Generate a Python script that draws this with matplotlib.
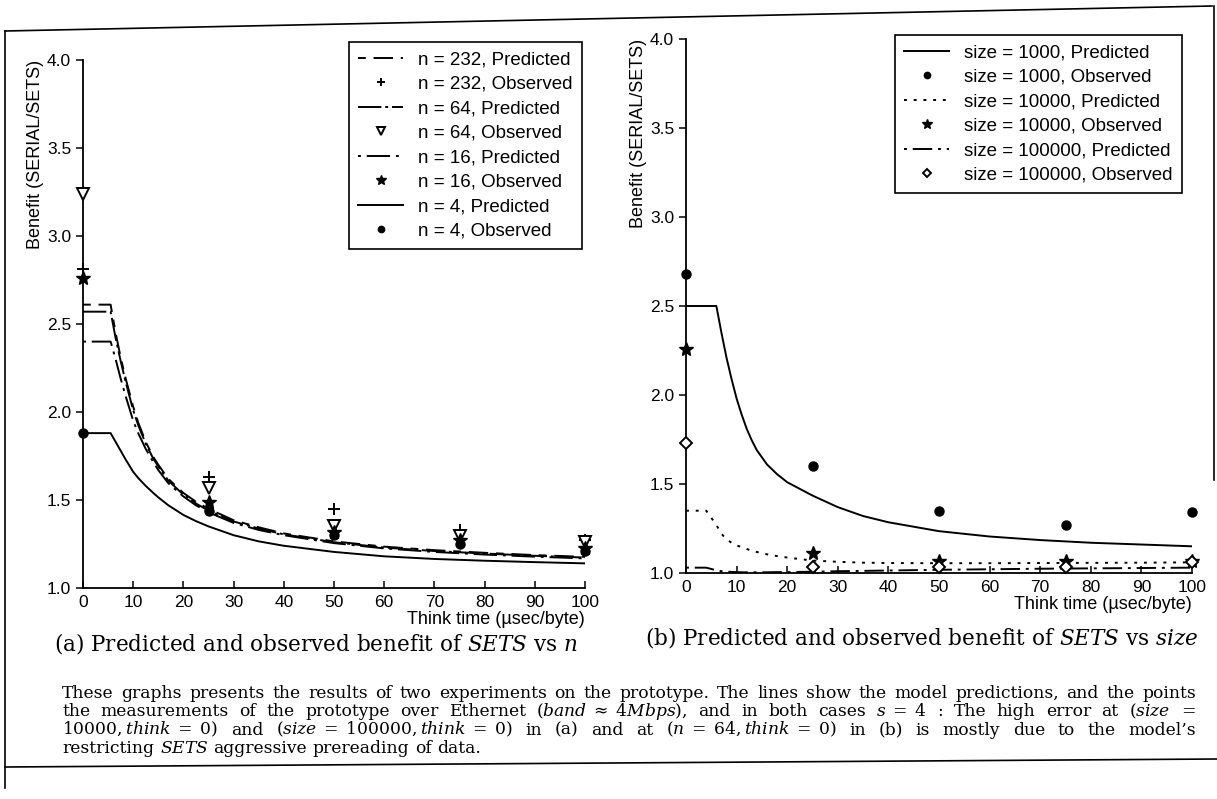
import numpy as np
import matplotlib.pyplot as plt
from matplotlib.lines import Line2D

W, H = 1217, 799

# think time (usec/byte)
think_obs = [0, 25, 50, 75, 100]
think_pred = [0, 5.5, 6.5, 7.5, 8.5, 10, 11, 12.5, 14, 15, 17, 20, 22.5, 25, 30, 35, 40, 50, 60, 70, 80, 90, 100]

# (a) benefit vs n
pred_n232 = [2.61, 2.61, 2.45, 2.31, 2.19, 2.03, 1.94, 1.83, 1.745, 1.70, 1.62, 1.54, 1.49, 1.45, 1.385, 1.345,
             1.31, 1.265, 1.235, 1.215, 1.20, 1.187, 1.177]
pred_n64 = [2.57, 2.57, 2.42, 2.29, 2.17, 2.01, 1.925, 1.82, 1.735, 1.69, 1.61, 1.53, 1.48, 1.44, 1.378, 1.338,
            1.305, 1.26, 1.23, 1.21, 1.196, 1.183, 1.173]
pred_n16 = [2.40, 2.40, 2.30, 2.19, 2.09, 1.95, 1.88, 1.79, 1.715, 1.67, 1.595, 1.52, 1.47, 1.43, 1.37, 1.33,
            1.30, 1.255, 1.225, 1.205, 1.19, 1.178, 1.168]
pred_n4 = [1.88, 1.88, 1.83, 1.78, 1.73, 1.66, 1.625, 1.58, 1.54, 1.515, 1.47, 1.415, 1.38, 1.35, 1.30, 1.265,
           1.24, 1.205, 1.18, 1.165, 1.155, 1.147, 1.14]
obs_n232 = [2.81, 1.63, 1.45, 1.33, 1.27]
obs_n64 = [3.24, 1.57, 1.35, 1.295, 1.26]
obs_n16 = [2.76, 1.49, 1.32, 1.27, 1.23]
obs_n4 = [1.88, 1.44, 1.30, 1.25, 1.21]

# (b) benefit vs size
think_pred_b = [0, 4, 6, 7, 8, 9, 10, 11, 12, 13, 14, 16, 18, 20, 22, 25, 30, 35, 40, 50, 60, 70, 80, 90, 100]
pred_s1000 = [2.50, 2.50, 2.50, 2.35, 2.21, 2.09, 1.98, 1.89, 1.81, 1.745, 1.69, 1.61, 1.555, 1.51, 1.48, 1.435,
              1.37, 1.32, 1.285, 1.235, 1.205, 1.185, 1.17, 1.16, 1.15]
pred_s10000 = [1.35, 1.35, 1.27, 1.22, 1.19, 1.17, 1.155, 1.145, 1.135, 1.125, 1.118, 1.105, 1.095, 1.087, 1.08,
               1.07, 1.063, 1.058, 1.056, 1.055, 1.055, 1.056, 1.057, 1.058, 1.06]
pred_s100000 = [1.03, 1.03, 1.015, 1.01, 1.008, 1.006, 1.005, 1.004, 1.004, 1.004, 1.004, 1.004, 1.005, 1.005,
                1.006, 1.007, 1.01, 1.012, 1.014, 1.018, 1.021, 1.024, 1.026, 1.028, 1.03]
obs_s1000 = [2.68, 1.60, 1.35, 1.27, 1.34]
obs_s10000 = [2.26, 1.11, 1.07, 1.07, 1.07]
obs_s100000 = [1.73, 1.035, 1.035, 1.035, 1.06]

plt.rcParams['font.family'] = ['Liberation Sans', 'DejaVu Sans']
plt.rcParams['mathtext.fontset'] = 'cm'
serif = ['DejaVu Serif', 'Liberation Serif']

fig = plt.figure(figsize=(W / 100, H / 100), dpi=100)


def px_axes(x0, x1, ytop, ybot):
    return fig.add_axes([x0 / W, 1 - ybot / H, (x1 - x0) / W, (ybot - ytop) / H])


def style_axes(ax):
    ax.set_xlim(0, 100)
    ax.set_ylim(1.0, 4.0)
    ax.set_xticks(range(0, 101, 10))
    ax.set_yticks([1.0, 1.5, 2.0, 2.5, 3.0, 3.5, 4.0])
    ax.set_yticklabels(['1.0', '1.5', '2.0', '2.5', '3.0', '3.5', '4.0'])
    for s in ['top', 'right']:
        ax.spines[s].set_visible(False)
    for s in ['left', 'bottom']:
        ax.spines[s].set_linewidth(1.3)
    ax.tick_params(axis='x', direction='in', length=5, width=1.1, labelsize=12.5, pad=5)
    ax.tick_params(axis='y', direction='out', length=5, width=1.1, labelsize=12.5)
    ax.set_ylabel('Benefit (SERIAL/SETS)', loc='top', fontsize=13, labelpad=2)
    ax.set_xlabel('Think time (\u00b5sec/byte)', loc='right', fontsize=13, labelpad=1)
    ax.patch.set_alpha(0)


def add_legend(ax, right, top):
    leg = ax.legend(loc='upper right', bbox_to_anchor=(right / W, 1 - top / H), bbox_transform=fig.transFigure,
                    fontsize=13.5, frameon=True, fancybox=False, edgecolor='black', framealpha=1,
                    labelspacing=0.39, handlelength=2.4, handletextpad=0.8, markerscale=0.7, borderpad=0.5,
                    borderaxespad=0)
    leg.get_frame().set_linewidth(1.2)


lw = 1.4
pts = dict(ls='none', color='black', clip_on=False, zorder=5)

# (a)
ax1 = px_axes(83, 585, 60, 588)
style_axes(ax1)
ax1.plot(think_pred, pred_n232, color='black', lw=lw, ls=(0, (4, 4, 10, 4)), label='n = 232, Predicted')
ax1.plot(think_obs, obs_n232, marker='+', ms=8, mew=1.4, label='n = 232, Observed', **pts)
ax1.plot(think_pred, pred_n64, color='black', lw=lw, ls=(0, (12, 2, 1.5, 2)), label='n = 64, Predicted')
ax1.plot(think_obs, obs_n64, marker='v', ms=9, mew=1.4, mfc='white', label='n = 64, Observed', **pts)
ax1.plot(think_pred, pred_n16, color='black', lw=lw, ls=(0, (1.5, 3, 12, 3)), label='n = 16, Predicted')
ax1.plot(think_obs, obs_n16, marker='*', ms=10, label='n = 16, Observed', **pts)
ax1.plot(think_pred, pred_n4, color='black', lw=lw, ls='-', label='n = 4, Predicted')
ax1.plot(think_obs, obs_n4, marker='o', ms=6.5, label='n = 4, Observed', **pts)
add_legend(ax1, 582, 42)

# (b)
ax2 = px_axes(686, 1192, 39, 573)
style_axes(ax2)
ax2.plot(think_pred_b, pred_s1000, color='black', lw=lw, ls='-', label='size = 1000, Predicted')
ax2.plot(think_obs, obs_s1000, marker='o', ms=6.5, label='size = 1000, Observed', **pts)
ax2.plot(think_pred_b, pred_s10000, color='black', lw=lw, ls=(0, (1.5, 3.5)), label='size = 10000, Predicted')
ax2.plot(think_obs, obs_s10000, marker='*', ms=10, label='size = 10000, Observed', **pts)
ax2.plot(think_pred_b, pred_s100000, color='black', lw=lw, ls=(0, (1.5, 3, 10, 3)), label='size = 100000, Predicted')
ax2.plot(think_obs, obs_s100000, marker='D', ms=6, mew=1.4, mfc='white', label='size = 100000, Observed', **pts)
add_legend(ax2, 1182, 35)

# sub-captions
fig.text(316 / W, 1 - 644 / H, '(a) Predicted and observed benefit of $SETS$ vs $n$', ha='center', va='center',
         fontsize=15.5, family=serif, math_fontfamily='dejavuserif')
fig.text(922 / W, 1 - 638 / H, '(b) Predicted and observed benefit of $SETS$ vs $size$', ha='center', va='center',
         fontsize=15.5, family=serif, math_fontfamily='dejavuserif')

# body text, justified between x0 and x1 (last line left aligned)
body = [
    'These graphs presents the results of two experiments on the prototype.  The lines show the model predictions, and the points',
    'the measurements of the prototype over Ethernet ($band\\;\\approx\\;4Mbps$), and in both cases $s\\;=\\;4$ :  The high error at ($size\\;\\;=$',
    '10000$,think\\;=\\;0$) and ($size\\;=\\;100000,think\\;=\\;0$) in (a) and at ($n\\;=\\;64,think\\;=\\;0$) in (b) is mostly due to the model\u2019s',
    'restricting $SETS$ aggressive prereading of data.',
]
x0, x1 = 62, 1196
renderer = fig.canvas.get_renderer()
for i, line in enumerate(body):
    y = 1 - (698 + i * 18.3) / H
    words = line.split()
    arts = [fig.text(0, y, w, ha='left', va='baseline', fontsize=12.3, family=serif,
                     math_fontfamily='dejavuserif') for w in words]
    widths = [a.get_window_extent(renderer).width for a in arts]
    if i < len(body) - 1:
        gap = (x1 - x0 - sum(widths)) / (len(words) - 1)
    else:
        gap = 5.5
    xp = x0
    for a, wd in zip(arts, widths):
        a.set_x(xp / W)
        xp += wd + gap

# outer frame of the scanned figure
frame = dict(color='black', lw=1.2, transform=fig.transFigure)
fig.add_artist(Line2D([5 / W, 1212 / W], [1 - 31 / H, 1 - 6 / H], **frame))
fig.add_artist(Line2D([5 / W, 5 / W], [1 - 31 / H, 1 - 788 / H], **frame))
fig.add_artist(Line2D([1214 / W, 1214 / W], [1 - 6 / H, 1 - 480 / H], **frame))
fig.add_artist(Line2D([5 / W, 1217 / W], [1 - 767 / H, 1 - 759 / H], **frame))

fig.savefig('out.png', dpi=100)
